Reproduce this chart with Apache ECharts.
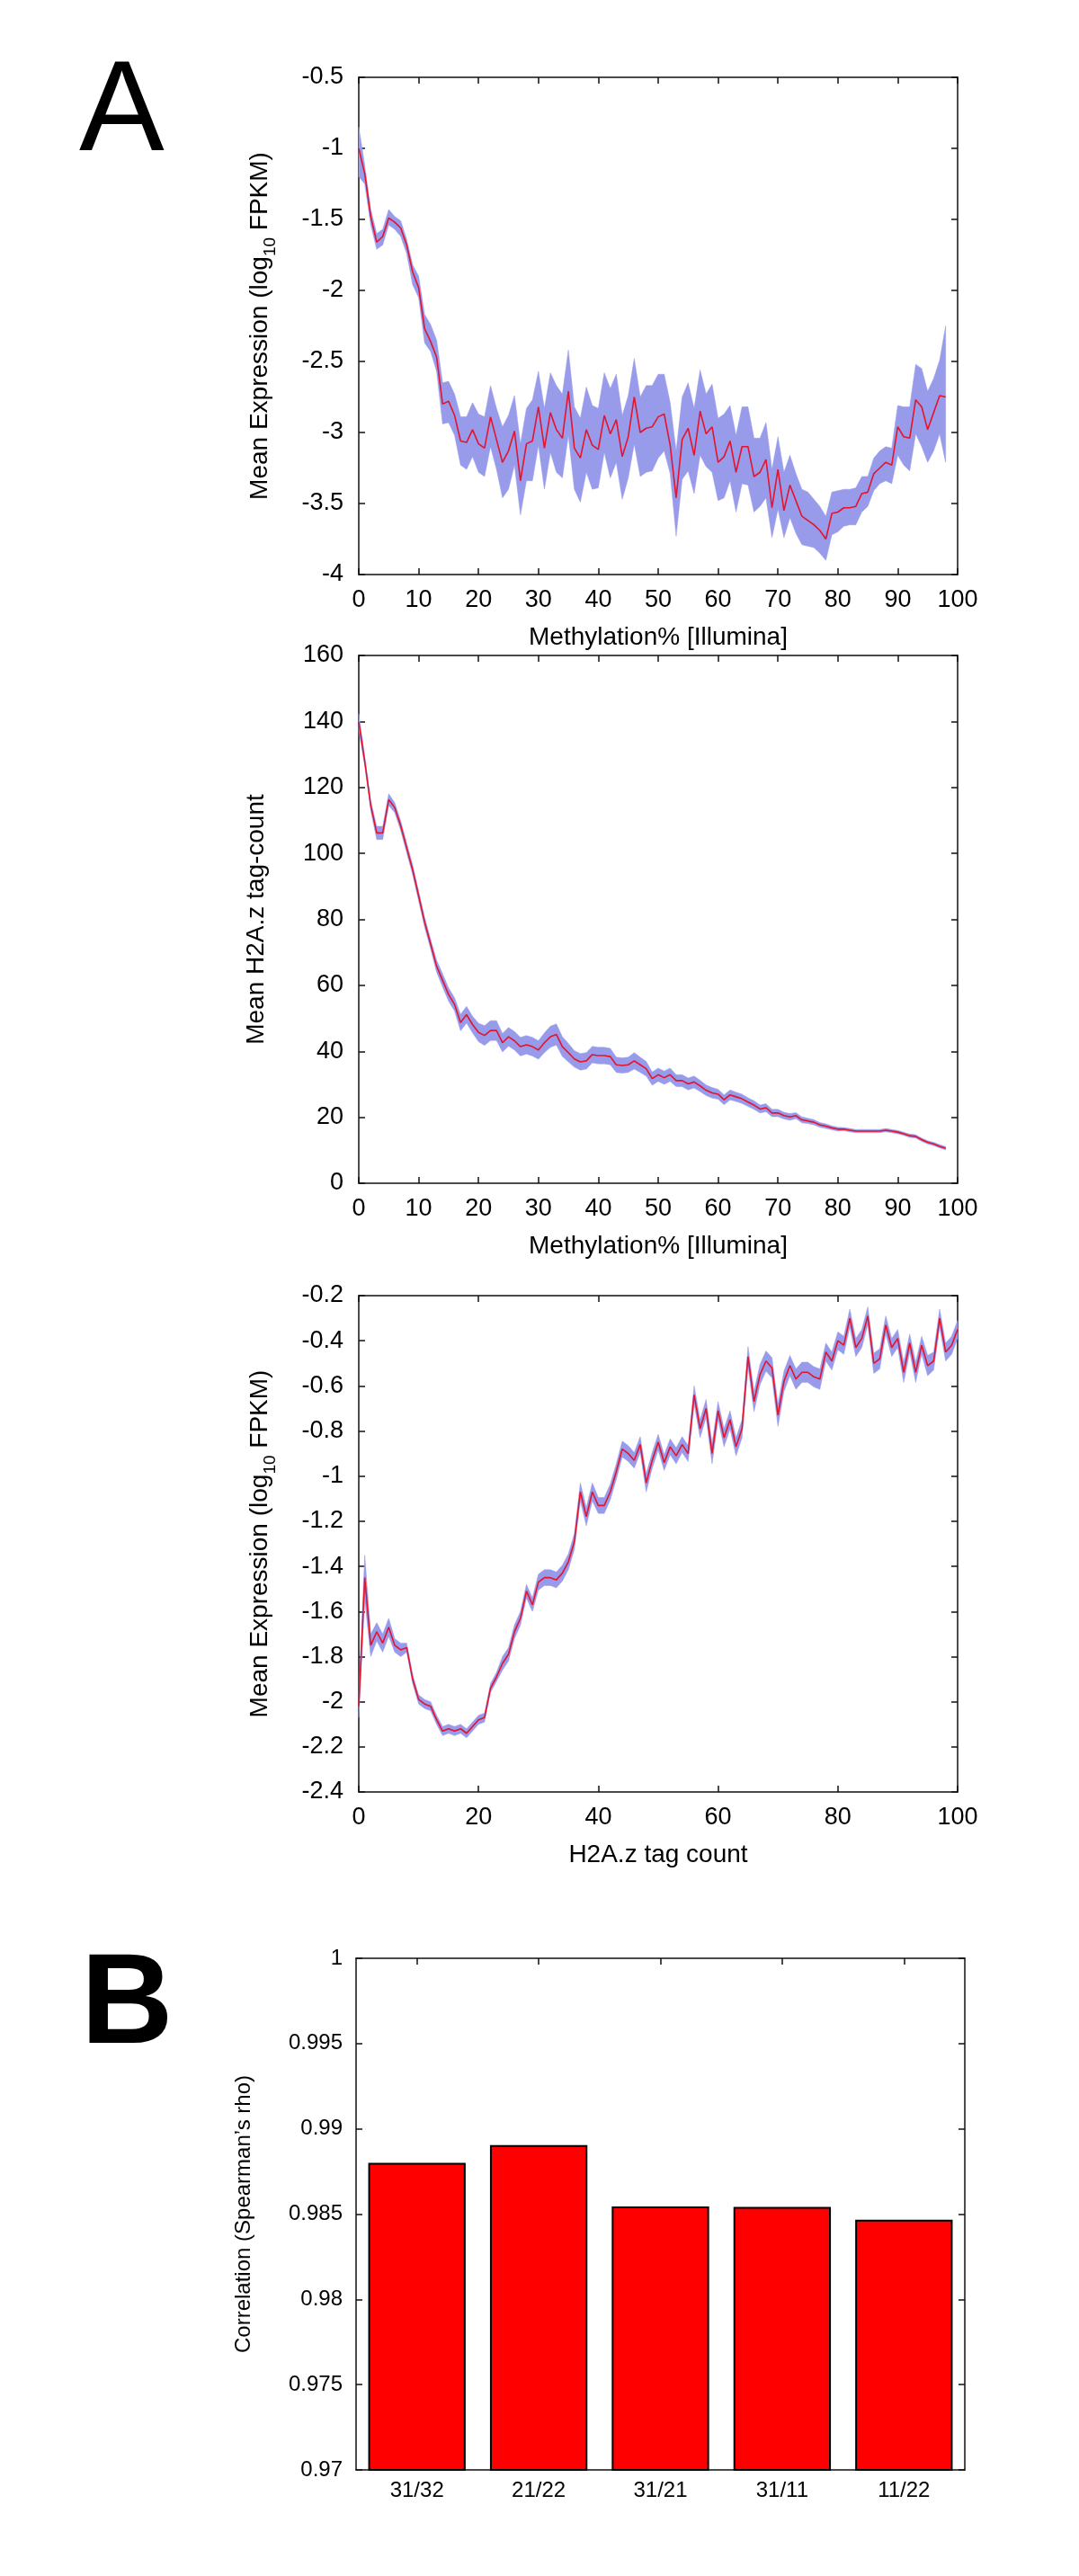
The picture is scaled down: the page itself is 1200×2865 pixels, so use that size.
<!DOCTYPE html>
<html><head><meta charset="utf-8">
<script src="https://cdn.jsdelivr.net/npm/echarts@6/dist/echarts.min.js"></script>
<style>html,body{margin:0;padding:0;background:#fff}#c{width:1200px;height:2865px}</style>
</head><body><div id="c"></div>
<script>
// ---------- Panel A1: Mean Expression vs Methylation% (x = 0..98) ----------
const meth1Mean = [-1.0,-1.18,-1.48,-1.66,-1.62,-1.49,-1.52,-1.56,-1.68,-1.87,
 -1.98,-2.27,-2.36,-2.47,-2.80,-2.78,-2.88,-3.06,-3.07,-2.98,
 -3.08,-3.11,-2.89,-3.05,-3.21,-3.13,-2.99,-3.34,-3.08,-3.06,
 -2.82,-3.11,-2.86,-2.98,-3.04,-2.71,-3.11,-3.18,-2.98,-3.09,
 -3.12,-2.88,-3.01,-2.91,-3.17,-3.03,-2.75,-3.00,-2.97,-2.96,
 -2.89,-2.87,-3.09,-3.46,-3.05,-2.97,-3.16,-2.85,-3.01,-2.96,
 -3.21,-3.17,-3.06,-3.28,-3.10,-3.10,-3.31,-3.28,-3.19,-3.53,
 -3.26,-3.55,-3.37,-3.48,-3.59,-3.62,-3.65,-3.69,-3.75,-3.57,
 -3.56,-3.53,-3.53,-3.52,-3.43,-3.42,-3.29,-3.25,-3.21,-3.23,
 -2.96,-3.03,-3.04,-2.77,-2.82,-2.98,-2.86,-2.74,-2.75];
const meth1Hi = [-0.85,-1.12,-1.43,-1.60,-1.57,-1.43,-1.48,-1.51,-1.64,-1.82,
 -1.90,-2.17,-2.24,-2.35,-2.65,-2.64,-2.73,-2.89,-2.89,-2.79,
 -2.87,-2.89,-2.67,-2.83,-2.96,-2.88,-2.74,-3.08,-2.83,-2.77,
 -2.57,-2.83,-2.58,-2.67,-2.73,-2.42,-2.82,-2.90,-2.68,-2.81,
 -2.83,-2.58,-2.69,-2.59,-2.88,-2.74,-2.48,-2.75,-2.67,-2.67,
 -2.59,-2.59,-2.79,-3.13,-2.75,-2.65,-2.83,-2.56,-2.73,-2.66,
 -2.90,-2.87,-2.81,-3.02,-2.82,-2.82,-3.04,-3.04,-2.93,-3.26,
 -3.03,-3.28,-3.16,-3.29,-3.40,-3.42,-3.47,-3.52,-3.59,-3.42,
 -3.41,-3.40,-3.40,-3.39,-3.31,-3.31,-3.18,-3.13,-3.10,-3.11,
 -2.81,-2.82,-2.82,-2.52,-2.55,-2.71,-2.62,-2.49,-2.25];
const meth1Lo = [-1.20,-1.25,-1.54,-1.71,-1.68,-1.54,-1.57,-1.62,-1.74,-1.96,
 -2.05,-2.37,-2.43,-2.57,-2.94,-2.93,-3.02,-3.23,-3.26,-3.17,
 -3.28,-3.31,-3.10,-3.26,-3.46,-3.40,-3.23,-3.58,-3.34,-3.34,
 -3.09,-3.40,-3.14,-3.28,-3.32,-3.02,-3.40,-3.49,-3.28,-3.40,
 -3.39,-3.14,-3.32,-3.21,-3.47,-3.32,-3.08,-3.31,-3.28,-3.27,
 -3.18,-3.13,-3.29,-3.73,-3.33,-3.27,-3.43,-3.16,-3.24,-3.28,
 -3.48,-3.46,-3.34,-3.56,-3.36,-3.37,-3.56,-3.52,-3.46,-3.74,
 -3.54,-3.74,-3.60,-3.71,-3.79,-3.80,-3.81,-3.85,-3.90,-3.72,
 -3.70,-3.66,-3.65,-3.65,-3.56,-3.52,-3.41,-3.36,-3.34,-3.36,
 -3.16,-3.23,-3.27,-3.01,-3.10,-3.21,-3.13,-3.01,-3.21];

// ---------- Panel A2: Mean H2A.z tag-count vs Methylation% (x = 0..98) ----------
const h2azMean = [139.8,127.9,114.5,106.2,106.2,116.3,113.9,108.4,101.7,95.0,
 87.1,79.1,72.5,65.8,61.5,57.2,54.2,48.7,51.1,48.1,
 45.7,44.8,46.3,46.3,42.6,44.4,43.2,41.4,42.0,41.4,
 40.4,42.6,44.4,45.1,41.4,39.6,37.7,36.8,37.1,39.0,
 38.7,38.7,38.4,35.9,35.7,35.9,37.1,35.9,34.7,31.7,
 32.9,32.0,32.9,31.1,31.1,30.1,30.7,29.5,28.2,27.4,
 27.0,25.3,26.8,26.2,25.6,24.6,23.7,22.5,22.9,21.3,
 21.3,20.5,20.1,20.5,19.2,18.9,18.5,17.7,17.3,16.8,
 16.4,16.4,16.1,15.8,15.8,15.8,15.8,15.8,16.1,15.8,
 15.5,15.0,14.4,14.2,13.2,12.4,11.9,11.2,10.6];
const h2azErr = [2.5,1.5,1.5,2.0,2.0,1.8,1.5,1.5,1.5,1.5,
 1.5,1.5,1.5,1.8,2.0,2.0,2.0,2.5,2.5,2.5,
 2.8,3.0,3.0,3.0,2.8,2.8,2.8,2.8,2.8,2.8,
 2.8,3.0,3.2,3.2,3.0,2.8,2.5,2.5,2.5,2.5,
 2.5,2.5,2.5,2.3,2.3,2.3,2.5,2.3,2.2,2.0,
 2.0,2.0,2.0,1.8,1.8,1.8,1.8,1.7,1.6,1.6,
 1.5,1.5,1.5,1.4,1.4,1.3,1.3,1.2,1.2,1.1,
 1.1,1.0,1.0,0.9,0.9,0.8,0.8,0.7,0.7,0.6,
 0.6,0.5,0.5,0.5,0.5,0.5,0.5,0.5,0.5,0.5,
 0.5,0.5,0.5,0.5,0.5,0.5,0.5,0.5,0.5];

// ---------- Panel A3: Mean Expression vs H2A.z tag count (x = 0..100) ----------
const tagMean = [-2.02,-1.45,-1.75,-1.69,-1.74,-1.67,-1.75,-1.77,-1.76,-1.90,
 -1.99,-2.01,-2.02,-2.08,-2.13,-2.12,-2.13,-2.12,-2.14,-2.11,
 -2.08,-2.07,-1.94,-1.89,-1.83,-1.79,-1.69,-1.63,-1.51,-1.57,
 -1.47,-1.45,-1.45,-1.46,-1.43,-1.38,-1.29,-1.07,-1.18,-1.07,
 -1.13,-1.13,-1.07,-0.98,-0.88,-0.90,-0.93,-0.86,-1.03,-0.93,
 -0.85,-0.94,-0.87,-0.91,-0.86,-0.90,-0.64,-0.79,-0.70,-0.90,
 -0.71,-0.83,-0.75,-0.87,-0.79,-0.47,-0.67,-0.55,-0.49,-0.52,
 -0.73,-0.58,-0.51,-0.57,-0.54,-0.54,-0.56,-0.57,-0.45,-0.49,
 -0.40,-0.42,-0.30,-0.43,-0.39,-0.29,-0.50,-0.48,-0.33,-0.43,
 -0.39,-0.54,-0.41,-0.54,-0.42,-0.51,-0.49,-0.30,-0.45,-0.42,
 -0.35];
const tagErr = [0.05,0.10,0.05,0.04,0.04,0.04,0.03,0.03,0.02,0.02,
 0.02,0.02,0.02,0.02,0.02,0.02,0.02,0.02,0.02,0.02,
 0.02,0.02,0.02,0.02,0.03,0.03,0.03,0.03,0.03,0.03,
 0.035,0.035,0.035,0.035,0.035,0.035,0.035,0.04,0.04,0.04,
 0.035,0.035,0.035,0.035,0.035,0.035,0.035,0.035,0.04,0.035,
 0.035,0.035,0.035,0.035,0.035,0.035,0.04,0.04,0.04,0.045,
 0.04,0.04,0.04,0.04,0.04,0.045,0.045,0.045,0.045,0.045,
 0.05,0.045,0.045,0.045,0.045,0.045,0.045,0.045,0.04,0.04,
 0.04,0.04,0.04,0.04,0.04,0.04,0.045,0.045,0.04,0.04,
 0.04,0.045,0.04,0.045,0.04,0.045,0.04,0.04,0.04,0.04,
 0.04];

// ---------- Panel B ----------
const pairCats = ['31/32','21/22','31/21','31/11','11/22'];
const pairRho = [0.988, 0.98905, 0.98545, 0.98542, 0.98467];

// ---------- styling ----------
const FONT = '"Liberation Sans", Arial, Helvetica, sans-serif';
const RED = '#e3142c';
const BAND = '#989aea';
const INK = '#111';

const xIdx = n => Array.from({length: n}, (_, i) => i);

function boxAxes(g, xCfg, yCfg, tickFont) {
  const line = {show: true, onZero: false, lineStyle: {color: INK, width: 1.5}};
  const tick = {show: true, inside: true, length: 7, lineStyle: {color: INK, width: 1.5}};
  const lab = {fontSize: tickFont, color: '#000', fontFamily: FONT};
  const xs = [
    Object.assign({gridIndex: g, position: 'bottom', axisLine: line, axisTick: tick,
      axisLabel: Object.assign({margin: 15}, lab), splitLine: {show: false},
      nameLocation: 'middle', nameGap: 56,
      nameTextStyle: {fontSize: 28, color: '#000', fontFamily: FONT}}, xCfg),
    Object.assign({gridIndex: g, position: 'top', axisLine: line, axisTick: tick,
      axisLabel: {show: false}, splitLine: {show: false}}, xCfg, {name: ''})
  ];
  const ys = [
    Object.assign({gridIndex: g, position: 'left', axisLine: line, axisTick: tick,
      axisLabel: Object.assign({margin: 17}, lab), splitLine: {show: false},
      nameLocation: 'middle'}, yCfg),
    Object.assign({gridIndex: g, position: 'right', axisLine: line, axisTick: tick,
      axisLabel: {show: false}, splitLine: {show: false}}, yCfg, {name: ''})
  ];
  return {xs, ys};
}

// confidence band as one polygon through the axis scales, plus the mean line
function bandSeries(g, xsArr, lo, hi, mean) {
  const ax = {xAxisIndex: 2 * g, yAxisIndex: 2 * g};
  const bandData = xsArr.map((x, i) => [x, lo[i], hi[i]]);
  return [
    Object.assign({type: 'custom', data: bandData, silent: true, z: 1,
      encode: {x: 0, y: [1, 2]},
      renderItem: function (params, api) {
        if (params.dataIndex !== 0) return null;
        const top = [], bot = [];
        for (let i = 0; i < bandData.length; i++) {
          top.push(api.coord([bandData[i][0], bandData[i][2]]));
          bot.push(api.coord([bandData[i][0], bandData[i][1]]));
        }
        return {type: 'polygon', shape: {points: top.concat(bot.reverse())},
          style: {fill: BAND, stroke: BAND, lineWidth: 0.5}};
      }}, ax),
    Object.assign({type: 'line', data: xsArr.map((x, i) => [x, mean[i]]), symbol: 'none',
      silent: true, lineStyle: {color: RED, width: 1.6}, z: 3}, ax)
  ];
}

const subRich = {s: {fontSize: 19, lineHeight: 19, padding: [16, 0, 0, 0], verticalAlign: 'top', fontFamily: FONT, color: '#000'}};

const a1 = boxAxes(0,
  {type: 'value', min: 0, max: 100, interval: 10, name: 'Methylation% [Illumina]'},
  {type: 'value', min: -4, max: -0.5, interval: 0.5, name: 'Mean Expression (log{s|10} FPKM)', nameGap: 96,
   nameTextStyle: {fontSize: 28, color: '#000', fontFamily: FONT, rich: subRich}}, 27);
const a2 = boxAxes(1,
  {type: 'value', min: 0, max: 100, interval: 10, name: 'Methylation% [Illumina]'},
  {type: 'value', min: 0, max: 160, interval: 20, name: 'Mean H2A.z tag-count', nameGap: 100,
   nameTextStyle: {fontSize: 28, color: '#000', fontFamily: FONT}}, 27);
const a3 = boxAxes(2,
  {type: 'value', min: 0, max: 100, interval: 20, name: 'H2A.z tag count'},
  {type: 'value', min: -2.4, max: -0.2, interval: 0.2, name: 'Mean Expression (log{s|10} FPKM)', nameGap: 96,
   nameTextStyle: {fontSize: 28, color: '#000', fontFamily: FONT, rich: subRich}}, 27);

// Panel B axes
const bLine = {show: true, onZero: false, lineStyle: {color: INK, width: 1.5}};
const bTick = {show: true, inside: true, length: 7, alignWithLabel: true, lineStyle: {color: INK, width: 1.5}};
const bX = [
  {gridIndex: 3, type: 'category', data: pairCats, position: 'bottom', axisLine: bLine, axisTick: bTick,
   axisLabel: {fontSize: 24, color: '#000', fontFamily: FONT, margin: 11}, splitLine: {show: false}},
  {gridIndex: 3, type: 'category', data: pairCats, position: 'top', axisLine: bLine, axisTick: bTick,
   axisLabel: {show: false}, splitLine: {show: false}}
];
const bY = [
  {gridIndex: 3, type: 'value', min: 0.97, max: 1, interval: 0.005, position: 'left', axisLine: bLine,
   axisTick: {show: true, inside: true, length: 7, lineStyle: {color: INK, width: 1.5}},
   axisLabel: {fontSize: 24, color: '#000', fontFamily: FONT, margin: 15}, splitLine: {show: false},
   name: 'Correlation (Spearman\u2019s rho)', nameLocation: 'middle', nameGap: 113,
   nameTextStyle: {fontSize: 24, color: '#000', fontFamily: FONT}},
  {gridIndex: 3, type: 'value', min: 0.97, max: 1, interval: 0.005, position: 'right', axisLine: bLine,
   axisTick: {show: true, inside: true, length: 7, lineStyle: {color: INK, width: 1.5}},
   axisLabel: {show: false}, splitLine: {show: false}}
];

const option = {
  animation: false,
  backgroundColor: '#fff',
  textStyle: {fontFamily: FONT},
  grid: [
    {left: 399, top: 86, width: 666, height: 553, outerBoundsMode: 'none'},
    {left: 399, top: 729, width: 666, height: 587, outerBoundsMode: 'none'},
    {left: 399, top: 1441, width: 666, height: 552, outerBoundsMode: 'none'},
    {left: 396, top: 2178, width: 677, height: 569, outerBoundsMode: 'none'}
  ],
  xAxis: [...a1.xs, ...a2.xs, ...a3.xs, ...bX],
  yAxis: [...a1.ys, ...a2.ys, ...a3.ys, ...bY],
  graphic: [
    {type: 'text', x: 88, y: 57, style: {text: 'A', font: '142px "Liberation Sans", Arial, sans-serif', fill: '#000', align: 'left', verticalAlign: 'top'}},
    {type: 'text', x: 90, y: 2162, style: {text: 'B', font: 'bold 142px "Liberation Sans", Arial, sans-serif', fill: '#000', align: 'left', verticalAlign: 'top'}}
  ],
  series: [
    ...bandSeries(0, xIdx(meth1Mean.length), meth1Lo, meth1Hi, meth1Mean),
    ...bandSeries(1, xIdx(h2azMean.length), h2azMean.map((v, i) => v - h2azErr[i]), h2azMean.map((v, i) => v + h2azErr[i]), h2azMean),
    ...bandSeries(2, xIdx(tagMean.length), tagMean.map((v, i) => v - tagErr[i]), tagMean.map((v, i) => v + tagErr[i]), tagMean),
    {type: 'bar', xAxisIndex: 6, yAxisIndex: 6, data: pairRho, barCategoryGap: '20%',
     itemStyle: {color: '#ff0000', borderColor: '#000', borderWidth: 2}, silent: true, z: 2}
  ]
};

const chart = echarts.init(document.getElementById('c'), null, {renderer: 'canvas', width: 1200, height: 2865});
chart.setOption(option);
</script>
</body></html>
